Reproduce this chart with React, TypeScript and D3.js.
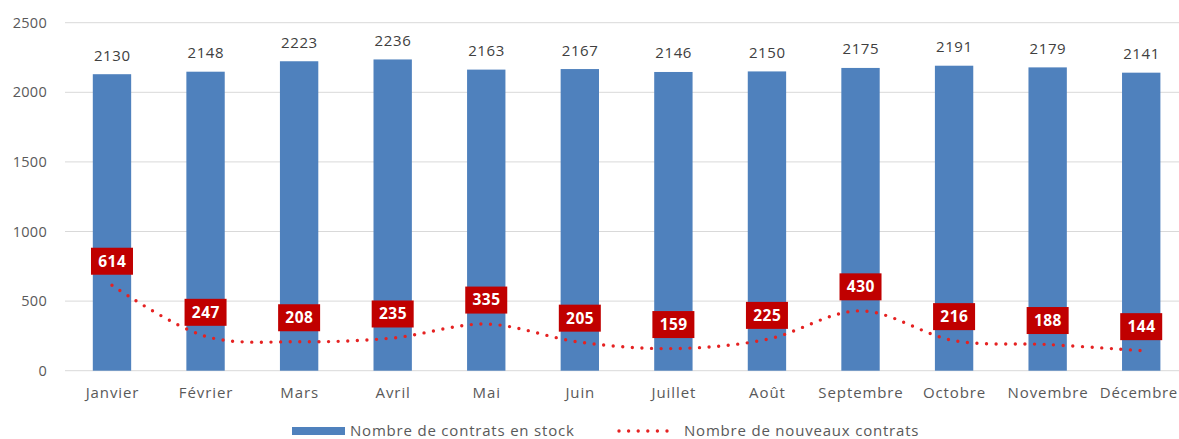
import React from "react";
import * as d3 from "d3";

const months = ["Janvier","Février","Mars","Avril","Mai","Juin","Juillet","Août","Septembre","Octobre","Novembre","Décembre"];
const stock = [2130,2148,2223,2236,2163,2167,2146,2150,2175,2191,2179,2141];
const nouveaux = [614,247,208,235,335,205,159,225,430,216,188,144];
const yTicks = [0,500,1000,1500,2000,2500];
const legendLabels = ["Nombre de contrats en stock","Nombre de nouveaux contrats"];

const W = 1179, H = 439;
const FONT = "'Open Sans', 'Noto Sans', sans-serif";

export default function App() {
  const x = d3.scaleBand<string>().domain(months).range([65.2, 1188]).paddingInner(0.59).paddingOuter(0.295);
  const y = d3.scaleLinear().domain([0, 2500]).range([370.7, 22.7]);
  const cx = (m: string) => (x(m) as number) + x.bandwidth() / 2;
  const line = d3.line<number>().x((_, i) => cx(months[i])).y(v => y(v)).curve(d3.curveCatmullRom.alpha(0.5));
  const last = months.length - 1;
  return (
    <svg width={W} height={H} style={{ position: "absolute", left: 0, top: 0, background: "#fff" }} fontFamily={FONT}>
      {yTicks.map(t => (
        <g key={t}>
          <line x1={65} x2={W} y1={y(t)} y2={y(t)} stroke="#D9D9D9" strokeWidth={1} />
          <text x={47} y={y(t)} dy="0.35em" textAnchor="end" fontSize={14.5} fill="#595959" letterSpacing={0.3}>{t}</text>
        </g>
      ))}
      {months.map((m, i) => (
        <g key={m}>
          <rect x={x(m)} y={y(stock[i])} width={x.bandwidth()} height={y(0) - y(stock[i])} fill="#4F81BD" />
          <text x={cx(m) + 0.3} y={y(stock[i]) - 13.5} textAnchor="middle" fontSize={15} fill="#404040" letterSpacing={0.6}>{stock[i]}</text>
          {i === last ? (
            <text x={W - 1} y={398} textAnchor="end" fontSize={15} fill="#595959" letterSpacing={0.7}>{m}</text>
          ) : (
            <text x={cx(m) + 0.5} y={398} textAnchor="middle" fontSize={15} fill="#595959" letterSpacing={0.9}>{m}</text>
          )}
        </g>
      ))}
      <path d={line(nouveaux) || ""} fill="none" stroke="#E52222" strokeWidth={3.4} strokeLinecap="round" strokeDasharray="0 9.6" />
      {months.map((m, i) => (
        <g key={"l" + m}>
          <rect x={cx(m) - 21} y={y(nouveaux[i]) - 37.5} width={42} height={27} fill="#C00000" />
          <text x={cx(m) + 0.3} y={y(nouveaux[i]) - 24} dy="0.35em" textAnchor="middle" fontSize={15.5} fontWeight="bold" fill="#fff" letterSpacing={0.5}>{nouveaux[i]}</text>
        </g>
      ))}
      <g>
        <rect x={292} y={427} width={53} height={8} fill="#4F81BD" />
        <text x={350} y={431} dy="0.35em" fontSize={15} fill="#595959" letterSpacing={0.8}>{legendLabels[0]}</text>
        <line x1={619} x2={673} y1={431} y2={431} stroke="#E52222" strokeWidth={3.4} strokeLinecap="round" strokeDasharray="0 9.6" />
        <text x={684} y={431} dy="0.35em" fontSize={15} fill="#595959" letterSpacing={0.8}>{legendLabels[1]}</text>
      </g>
    </svg>
  );
}
